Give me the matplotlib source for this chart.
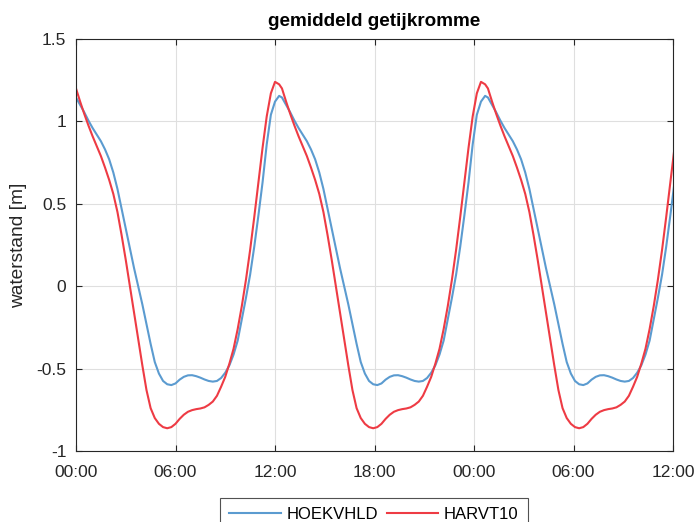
import numpy as np
import matplotlib
matplotlib.use("Agg")
from matplotlib import pyplot as plt

# one mean tidal cycle (hours after 00:00)
cycle_hours = [0.0, 0.25, 0.5, 0.75, 1.0, 1.25, 1.5, 1.75, 2.0, 2.25, 2.5, 2.75,
               3.0, 3.25, 3.5, 3.75, 4.0, 4.25, 4.5, 4.75, 5.0, 5.25, 5.5, 5.75,
               6.0, 6.25, 6.5, 6.75, 7.0, 7.25, 7.5, 7.75, 8.0, 8.25, 8.5, 8.75,
               9.0, 9.25, 9.5, 9.75, 10.0, 10.25, 10.5, 10.75, 11.0, 11.25, 11.5,
               11.75, 12.0, 12.25]

hoekvhld = [1.145, 1.10, 1.055, 1.005, 0.96, 0.92, 0.88, 0.83, 0.77, 0.69, 0.59,
            0.47, 0.35, 0.23, 0.11, 0.00, -0.11, -0.23, -0.35, -0.46, -0.53,
            -0.575, -0.595, -0.60, -0.59, -0.567, -0.55, -0.541, -0.540, -0.546,
            -0.555, -0.566, -0.575, -0.579, -0.575, -0.557, -0.525, -0.48,
            -0.415, -0.33, -0.20, -0.07, 0.07, 0.24, 0.43, 0.63, 0.86, 1.04,
            1.12, 1.155]

harvt10 = [1.20, 1.12, 1.045, 0.975, 0.91, 0.85, 0.79, 0.72, 0.645, 0.56, 0.45,
           0.31, 0.16, 0.00, -0.16, -0.32, -0.48, -0.63, -0.74, -0.80, -0.835,
           -0.855, -0.862, -0.855, -0.835, -0.805, -0.78, -0.762, -0.752, -0.746,
           -0.742, -0.735, -0.72, -0.70, -0.665, -0.61, -0.55, -0.47, -0.38,
           -0.26, -0.12, 0.04, 0.22, 0.42, 0.63, 0.84, 1.03, 1.17, 1.24, 1.225]

period = 12.42
n_cycles = 3

xtick_hours = [0, 6, 12, 18, 24, 30, 36]
xtick_labels = ["00:00", "06:00", "12:00", "18:00", "00:00", "06:00", "12:00"]
ytick_values = [-1, -0.5, 0, 0.5, 1, 1.5]
ytick_labels = ["-1", "-0.5", "0", "0.5", "1", "1.5"]

series = [("HOEKVHLD", hoekvhld, "#5b9bd0"), ("HARVT10", harvt10, "#ee3b44")]

plt.rcParams["font.family"] = ["Liberation Sans", "DejaVu Sans"]

fig = plt.figure(figsize=(6.98, 5.22), dpi=100)
ax = fig.add_axes([76 / 698, 71 / 522, 597 / 698, 412 / 522])

for name, vals, col in series:
    t = np.concatenate([np.array(cycle_hours) + k * period for k in range(n_cycles)])
    v = np.concatenate([vals] * n_cycles)
    ax.plot(t, v, color=col, lw=1.5, label=name)

ax.set_xlim(0, 36)
ax.set_ylim(-1, 1.5)
ax.set_xticks(xtick_hours)
ax.set_xticklabels(xtick_labels)
ax.set_yticks(ytick_values)
ax.set_yticklabels(ytick_labels)

ax.grid(True, color="#dfdfdf", lw=0.8)
ax.set_axisbelow(True)
ax.tick_params(direction="in", top=True, right=True, length=4, width=0.8,
               colors="#262626", labelsize=12.5)
ax.tick_params(axis="x", pad=10)
ax.tick_params(axis="y", pad=7)
for s in ax.spines.values():
    s.set_color("#262626")
    s.set_linewidth(0.8)

ax.set_title("gemiddeld getijkromme", fontsize=13.6, fontweight="bold", pad=9)
ax.set_ylabel("waterstand [m]", fontsize=13.8, color="#262626", labelpad=7)

leg = fig.legend(loc="upper center", bbox_to_anchor=(374 / 698, 24 / 522),
                 ncol=2, fontsize=12, frameon=True, fancybox=False,
                 handlelength=3.1, columnspacing=0.5, handletextpad=0.35,
                 borderpad=0.55, borderaxespad=0)
leg.get_frame().set_edgecolor("#262626")
leg.get_frame().set_linewidth(0.8)

fig.savefig("out.png", dpi=100)
